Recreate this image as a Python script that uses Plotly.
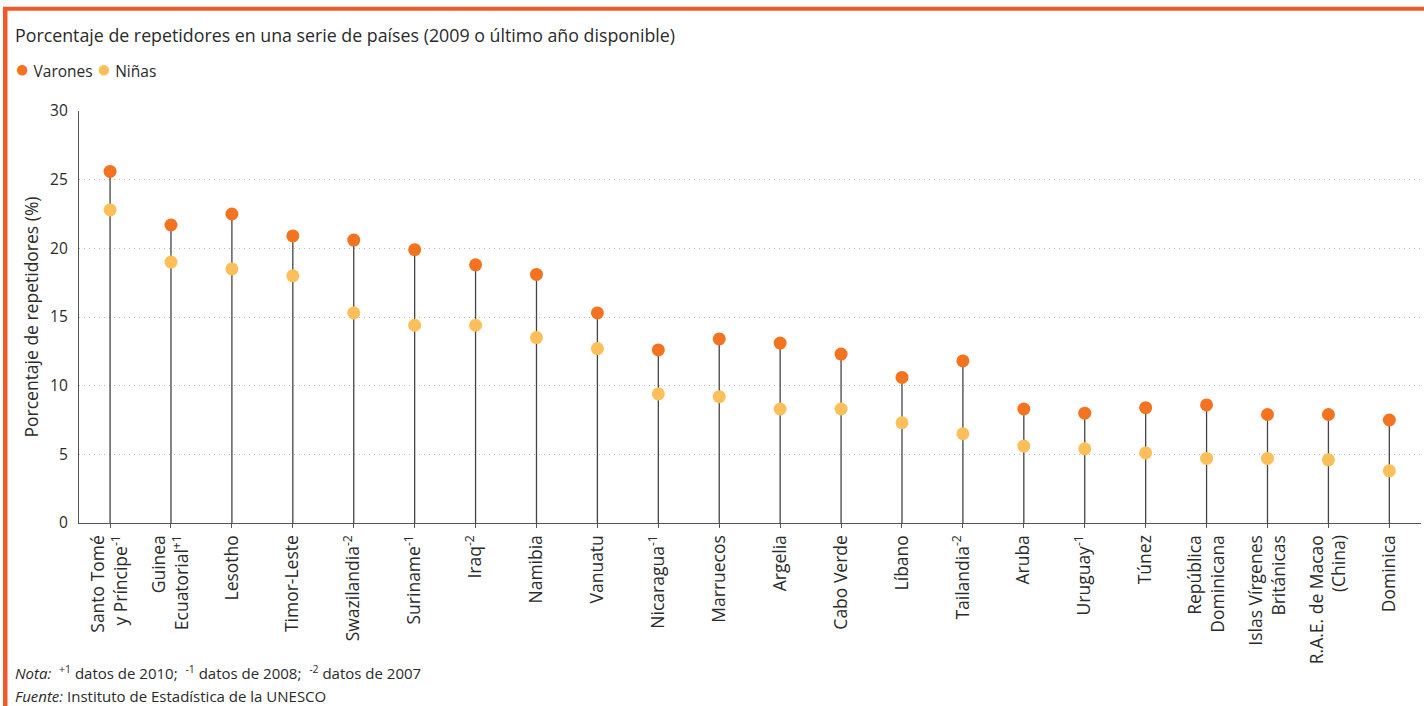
import plotly.graph_objects as go

categories = [
    "Santo Tomé<br>y Príncipe<sup>-1</sup>", "Guinea<br>Ecuatorial<sup>+1</sup>", "Lesotho",
    "Timor-Leste", "Swazilandia<sup>-2</sup>", "Suriname<sup>-1</sup>", "Iraq<sup>-2</sup>",
    "Namibia", "Vanuatu", "Nicaragua<sup>-1</sup>", "Marruecos", "Argelia", "Cabo Verde",
    "Líbano", "Tailandia<sup>-2</sup>", "Aruba", "Uruguay<sup>-1</sup>", "Túnez",
    "República<br>Dominicana", "Islas Vírgenes<br>Británicas", "R.A.E. de Macao<br>(China)",
    "Dominica",
]
varones = [25.6, 21.7, 22.5, 20.9, 20.6, 19.9, 18.8, 18.1, 15.3, 12.6, 13.4, 13.1, 12.3,
           10.6, 11.8, 8.3, 8.0, 8.4, 8.6, 7.9, 7.9, 7.5]
ninas = [22.8, 19.0, 18.5, 18.0, 15.3, 14.4, 14.4, 13.5, 12.7, 9.4, 9.2, 8.3, 8.3,
         7.3, 6.5, 5.6, 5.4, 5.1, 4.7, 4.7, 4.6, 3.8]
y_ticks = [0, 5, 10, 15, 20, 25, 30]

FONT = "Open Sans"
C_VAR = "#F47321"
C_NIN = "#FDBF5A"
C_FRAME = "#F05A28"
C_TXT = "#2A2A2A"

W, H = 1424, 706
ML, MR, MT, MB = 79, 3, 111, 183

xs = list(range(len(categories)))
stem_x, stem_y = [], []
for i, (v, n) in enumerate(zip(varones, ninas)):
    stem_x += [i, i, None]
    stem_y += [0, max(v, n), None]

fig = go.Figure()
fig.add_trace(go.Scatter(x=stem_x, y=stem_y, mode="lines",
                         line=dict(color="#444444", width=1.3),
                         showlegend=False, hoverinfo="skip"))
fig.add_trace(go.Scatter(x=xs, y=varones, mode="markers", name="Varones",
                         marker=dict(color=C_VAR, size=13), showlegend=False))
fig.add_trace(go.Scatter(x=xs, y=ninas, mode="markers", name="Niñas",
                         marker=dict(color=C_NIN, size=13), showlegend=False))

pw = W - ML - MR
ph = H - MT - MB
def px_x(p):
    return (p - ML) / pw
def px_y(p):
    return (H - MB - p) / ph

shapes = [
    dict(type="rect", xref="paper", yref="paper", x0=px_x(3), x1=px_x(7.5),
         y0=px_y(706), y1=px_y(7), fillcolor=C_FRAME, line=dict(width=0), layer="below"),
    dict(type="rect", xref="paper", yref="paper", x0=px_x(3), x1=px_x(1424),
         y0=px_y(10.7), y1=px_y(6.7), fillcolor=C_FRAME, line=dict(width=0), layer="below"),
]

legend_text = (f"<span style='color:{C_VAR};font-size:24px'>●</span> Varones "
               f"<span style='color:{C_NIN};font-size:24px'>●</span> Niñas")

annotations = [
    dict(text="Porcentaje de repetidores en una serie de países (2009 o último año disponible)",
         xref="paper", yref="paper", x=px_x(13), y=px_y(35), xanchor="left", yanchor="middle",
         showarrow=False, font=dict(family=FONT, size=17.8, color=C_TXT)),
    dict(text=legend_text,
         xref="paper", yref="paper", x=px_x(13), y=px_y(68), xanchor="left", yanchor="middle",
         showarrow=False, font=dict(family=FONT, size=15.5, color=C_TXT)),
    dict(text="<i>Nota:</i>&nbsp; <sup>+1</sup> datos de 2010;&nbsp; <sup>-1</sup> datos de 2008;&nbsp; <sup>-2</sup> datos de 2007",
         xref="paper", yref="paper", x=px_x(13), y=px_y(672), xanchor="left", yanchor="middle",
         showarrow=False, font=dict(family=FONT, size=15, color=C_TXT)),
    dict(text="<i>Fuente:</i> Instituto de Estadística de la UNESCO",
         xref="paper", yref="paper", x=px_x(13), y=px_y(696), xanchor="left", yanchor="middle",
         showarrow=False, font=dict(family=FONT, size=15, color=C_TXT)),
]

fig.update_layout(
    width=W, height=H,
    margin=dict(l=ML, r=MR, t=MT, b=MB, pad=0),
    paper_bgcolor="white", plot_bgcolor="white",
    font=dict(family=FONT, color="#333333"),
    shapes=shapes, annotations=annotations,
    showlegend=False,
)
fig.update_xaxes(
    tickmode="array", tickvals=xs, ticktext=categories, tickangle=-90,
    range=[-0.51, len(categories) - 0.48],
    showline=True, linecolor="#555555", linewidth=1.3,
    ticks="outside", ticklen=4, tickcolor="#555555", tickwidth=1,
    showgrid=False, zeroline=False,
    tickfont=dict(family=FONT, size=17.5, color=C_TXT),
)
fig.update_yaxes(
    range=[0, 30], tickmode="array", tickvals=y_ticks,
    showline=True, linecolor="#555555", linewidth=1.3,
    showgrid=True, gridcolor="#BBBBBB", griddash="1px,4px", gridwidth=1,
    zeroline=False, ticks="", ticklabelstandoff=7,
    tickfont=dict(family=FONT, size=15.5, color=C_TXT),
    title=dict(text="Porcentaje de repetidores (%)", standoff=6,
               font=dict(family=FONT, size=17.5, color=C_TXT)),
)

fig.write_html("out.html", config={"displayModeBar": False},
               post_script="document.body.style.margin='0';document.body.style.overflow='hidden';")
